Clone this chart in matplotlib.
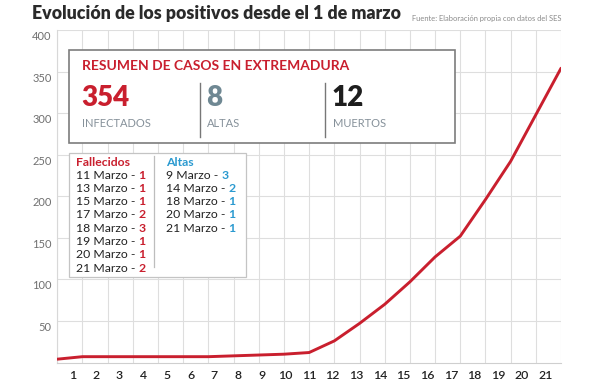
import matplotlib
matplotlib.use("Agg")
import matplotlib.pyplot as plt
from matplotlib.patches import Rectangle
from matplotlib.lines import Line2D
from matplotlib.transforms import ScaledTranslation

# ---------------- data ----------------
days = list(range(1, 22))
positives = [4, 7, 7, 7, 7, 7, 7, 8, 9, 10, 12, 26, 47, 70, 97, 127, 152, 196, 242, 298, 354]
y_ticks = [50, 100, 150, 200, 250, 300, 350, 400]

title = "Evolución de los positivos desde el 1 de marzo"
source = "Fuente: Elaboración propia con datos del SES"

summary_title = "RESUMEN DE CASOS EN EXTREMADURA"
summary_values = ["354", "8", "12"]
summary_labels = ["INFECTADOS", "ALTAS", "MUERTOS"]

deaths_dates = [11, 13, 15, 17, 18, 19, 20, 21]
deaths_counts = [1, 1, 1, 2, 3, 1, 1, 2]
disch_dates = [9, 14, 18, 20, 21]
disch_counts = [3, 2, 1, 1, 1]

# ---------------- styles ----------------
RED = "#c91f2e"
BLUE = "#2b9ad0"
SLATE = "#6f8893"
DARK = "#222222"
GRID = "#dedede"
FONT = ["Lato", "DejaVu Sans"]

W, H = 594, 385
fig = plt.figure(figsize=(W / 100, H / 100), dpi=100)
fig.patch.set_facecolor("white")


def fx(px):
    return px / W


def fy(py):
    return 1 - py / H


# main axes
x0, x1, ytop, ybot = 57.3, 561.0, 30.0, 362.5
ax = fig.add_axes([fx(x0), fy(ybot), fx(x1) - fx(x0), fy(ytop) - fy(ybot)])
ax.set_xlim(days[0], days[-1])
ax.set_ylim(0, 400)
ax.plot(days, positives, color=RED, lw=2.1, solid_capstyle="round", zorder=3)

ax.set_xticks(days)
ax.set_xticklabels([])
ax.set_yticks(y_ticks)
ax.set_yticklabels([str(v) for v in y_ticks])
ax.grid(True, color=GRID, lw=0.8)
ax.tick_params(axis="both", length=0)
ax.tick_params(axis="y", pad=4, labelsize=8, labelcolor="#707070")
for lab in ax.get_yticklabels():
    lab.set_fontfamily(FONT)
    lab.set_transform(lab.get_transform() + ScaledTranslation(0, -0.055, fig.dpi_scale_trans))
for s in ["top", "right"]:
    ax.spines[s].set_visible(False)
ax.spines["left"].set_color("#d8d8d8")
ax.spines["left"].set_linewidth(0.8)
ax.spines["bottom"].set_color("#cfcfcf")
ax.spines["bottom"].set_linewidth(0.8)

# label axis (tick labels are evenly spaced in the original, not on the gridlines)
ax2 = ax.twiny()
ax2.set_xlim(0.37, 21.65)
ax2.xaxis.set_ticks_position("bottom")
ax2.xaxis.set_label_position("bottom")
ax2.set_xticks(days)
ax2.set_xticklabels([str(d) for d in days])
ax2.tick_params(axis="x", length=0, pad=5.5, labelsize=8.8, labelcolor=DARK)
for lab in ax2.get_xticklabels():
    lab.set_fontfamily(FONT)
    lab.set_fontweight("semibold")
for s in ax2.spines.values():
    s.set_visible(False)

# title & source
fig.text(fx(32), fy(13.3), title, fontsize=12.8, fontweight="heavy", color="#2a2a2a",
         family=FONT, ha="left", va="center")
fig.text(fx(561), fy(18), source, fontsize=5.4, color="#8a8a8a", family=FONT,
         ha="right", va="center")

# ---------------- summary box ----------------
fig.add_artist(Rectangle((fx(69.3), fy(143.3)), fx(455) - fx(69.3), fy(50) - fy(143.3),
                         transform=fig.transFigure, facecolor="white", edgecolor="#7d7d7d",
                         lw=1.2, zorder=5))
fig.text(fx(82), fy(65.5), summary_title, fontsize=10, fontweight="bold", color=RED,
         family=FONT, ha="left", va="center", zorder=6)
val_colors = [RED, SLATE, "#1e1e1e"]
col_x = [82, 207.3, 332.7]
for v, l, c, xx in zip(summary_values, summary_labels, val_colors, col_x):
    fig.text(fx(xx - 1), fy(98.3), v, fontsize=20, fontweight="heavy", color=c,
             family=FONT, ha="left", va="center", zorder=6)
    fig.text(fx(xx), fy(123.3), l, fontsize=8, color="#86919a", family=FONT,
             ha="left", va="center", zorder=6)
for sx in [200, 325]:
    fig.add_artist(Line2D([fx(sx), fx(sx)], [fy(82.7), fy(136.7)], transform=fig.transFigure,
                          color="#777777", lw=1.0, zorder=6))

# ---------------- detail box ----------------
fig.add_artist(Rectangle((fx(69), fy(276.7)), fx(246) - fx(69), fy(152.7) - fy(276.7),
                         transform=fig.transFigure, facecolor="white", edgecolor="#c4c4c4",
                         lw=0.9, zorder=5))
fig.add_artist(Line2D([fx(154), fx(154)], [fy(156), fy(266.7)], transform=fig.transFigure,
                      color="#bdbdbd", lw=0.9, zorder=6))

row0, dy = 175.0, 13.33
FS = 8.8


def column(xpx, head, color, dates, counts):
    fig.text(fx(xpx), fy(162.7), head, fontsize=FS, fontweight="bold", color=color,
             family=FONT, ha="left", va="center", zorder=6)
    for i, (d, n) in enumerate(zip(dates, counts)):
        t = fig.text(fx(xpx), fy(row0 + i * dy), f"{d} Marzo -", fontsize=FS, color=DARK,
                     family=FONT, ha="left", va="center", zorder=6)
        fig.add_artist(plt.Annotation(str(n), xy=(1, 0.5), xycoords=t, xytext=(2.2, 0),
                                      textcoords="offset points", fontsize=FS,
                                      fontweight="bold", color=color, family=FONT,
                                      ha="left", va="center", zorder=6))


column(76, "Fallecidos", RED, deaths_dates, deaths_counts)
column(166, "Altas", BLUE, disch_dates, disch_counts)

fig.savefig("out.png", dpi=100, facecolor="white")
